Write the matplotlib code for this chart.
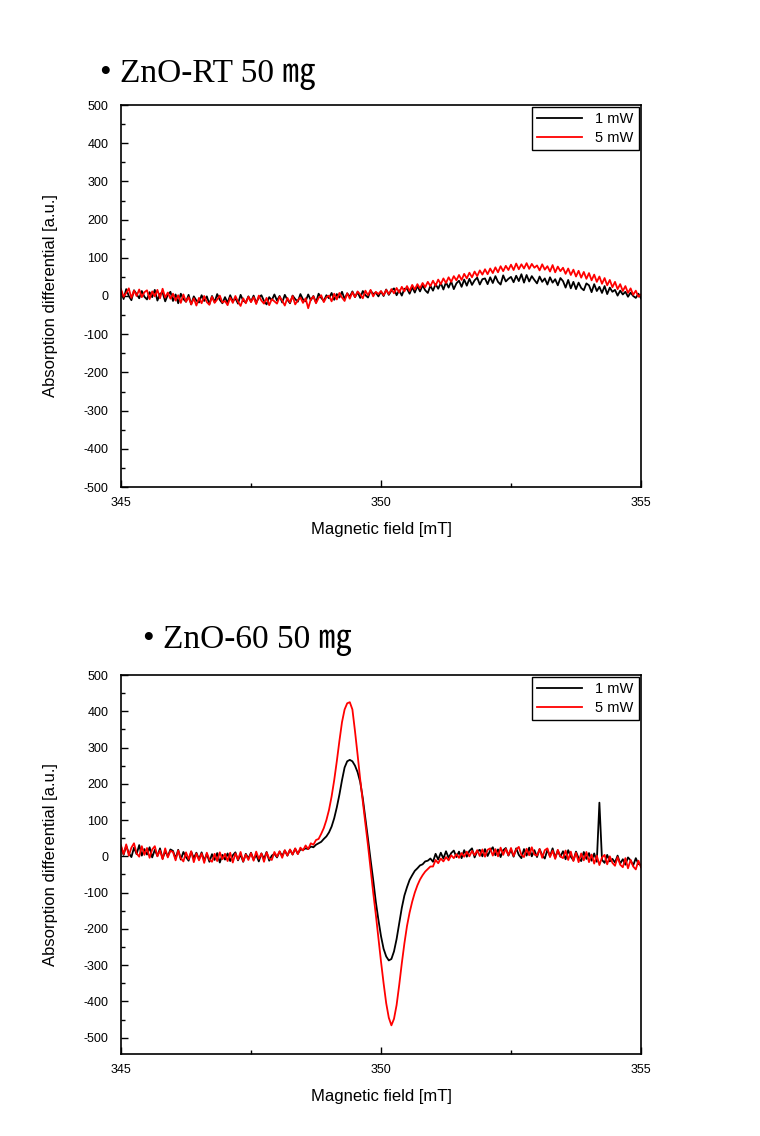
import matplotlib.pyplot as plt
import numpy as np
from matplotlib.ticker import MultipleLocator

# field sweep 345 -> 355 mT, one reading every 0.05 mT
field = np.arange(201) * 0.05 + 345

# ZnO-RT 50 mg
rt_1mw = [
    14, -8, 18, 0, -11, 15, 5, -6, 13, -2,
    -9, 10, -3, 16, -12, 6, 9, -14, 3, 11,
    -13, 4, -19, 6, -8, -15, 3, -22, -1, -12,
    -17, 2, -13, -1, -21, 0, -16, 5, -10, -19,
    -3, -18, 2, -14, -6, -20, 3, -12, -17, -1,
    -15, 1, -18, -4, 2, -13, -22, -3, -11, 4,
    -12, 0, -17, 3, -10, -19, 1, -8, -15, 5,
    -9, -14, 4, -11, 0, -17, 6, -5, -13, 2,
    -6, 8, -10, 5, -4, 11, -8, 7, -2, 12,
    -3, 10, -5, 13, 2, -4, 14, 5, 9, -1,
    12, 0, 17, 3, 14, 20, 2, 15, 1, 19,
    19, 6, 23, 9, 26, 12, 28, 15, 8, 27,
    14, 31, 19, 34, 17, 36, 22, 38, 18, 33,
    40, 24, 43, 27, 45, 29, 41, 48, 30, 44,
    46, 31, 49, 34, 52, 37, 30, 54, 38, 45,
    50, 36, 53, 39, 57, 35, 55, 38, 52, 42,
    33, 51, 37, 46, 30, 49, 35, 44, 28, 47,
    39, 22, 42, 20, 37, 18, 35, 21, 15, 33,
    28, 10, 31, 13, 24, 8, 26, 5, 22, 11,
    16, 1, 14, 4, 11, -2, 9, 0, -5, 6,
    -6]
rt_5mw = [
    18, -2, 8, 20, -5, 14, 0, 17, -3, 10,
    15, -8, 12, -1, 16, -6, 19, -4, 9, -7,
    6, -12, 2, -18, 4, -15, -3, -22, -6, -25,
    -5, -19, 0, -16, -23, -2, -18, -9, 1, -17,
    -13, -24, -4, -18, 0, -15, -26, -6, -19, -2,
    -16, -3, -21, 1, -12, -20, -5, -24, -8, -14,
    -20, -2, -12, -25, -5, -17, 0, -22, -11, -4,
    -18, -6, -32, -9, -1, -19, -5, 2, -16, -3,
    1, -14, 6, -9, 8, -4, -13, 7, -7, 10,
    -3, 12, 4, -6, 14, 2, 16, -1, 11, 5,
    13, 2, 16, 5, 18, 7, 21, 9, 24, 12,
    26, 13, 29, 17, 31, 20, 34, 23, 37, 26,
    40, 27, 43, 31, 46, 34, 49, 37, 52, 41,
    55, 42, 58, 46, 61, 49, 64, 52, 67, 56,
    70, 57, 72, 60, 75, 62, 78, 65, 79, 68,
    82, 68, 85, 70, 83, 72, 86, 71, 84, 74,
    80, 67, 83, 69, 78, 64, 81, 62, 77, 65,
    74, 58, 72, 55, 69, 51, 66, 48, 63, 45,
    60, 41, 56, 37, 51, 32, 47, 28, 42, 23,
    37, 18, 31, 13, 26, 8, 20, 3, 14, -2,
    4]

# ZnO-60 50 mg
z60_1mw = [
    26, 4, 29, 9, -2, 24, 6, 31, 2, 20,
    5, 25, -3, 18, 1, 22, -6, 14, 0, 19,
    15, -6, 18, -9, 12, -2, -12, 13, -5, 10,
    -8, 11, -12, 7, -15, 6, -10, 9, -17, 4,
    -9, 8, -13, 3, 11, -11, 5, -15, 7, -6,
    10, -9, 4, -14, 8, -7, 12, -12, 2, 7,
    -3, 13, 1, 16, 2, 18, 5, 21, 7, 19,
    18, 22, 20, 27, 25, 32, 36, 40, 48, 55,
    66, 82, 105, 135, 170, 210, 245, 262, 266, 262,
    250, 232, 205, 160, 105, 48, -10, -65, -125, -175,
    -220, -255, -276, -287, -283, -262, -228, -185, -142, -108,
    -85, -65, -52, -40, -33, -25, -22, -14, -12, -6,
    -15, 7, -9, 10, -6, 14, -4, 9, 16, -2,
    13, -5, 17, -1, 15, 22, -3, 14, 18, 0,
    20, 1, 16, 25, 3, 19, -2, 17, 23, 2,
    18, -1, 22, 4, -5, 20, 2, 24, 0, 17,
    -2, 20, 3, -6, 18, 0, 22, -4, 16, -1,
    14, -8, 17, -1, -11, 13, -5, -13, 12, -7,
    9, -12, 8, -15, 148, -10, -18, 4, -14, -7,
    -17, 2, -20, -8, -23, -3, -11, -25, -5, -21,
    -24]
z60_5mw = [
    30, 6, 33, 2, 24, 36, 8, -1, 28, 4,
    23, -4, 19, 28, 0, 16, -8, 22, -3, 15,
    12, -11, 16, -5, -14, 11, -8, 14, -16, 8,
    -11, 8, -18, 10, -9, -15, 7, -13, 11, -8,
    7, -13, 10, -17, 8, -9, 12, -14, 5, -10,
    9, -12, 13, -7, 8, -15, 11, -6, -10, 12,
    -1, 14, -4, 17, 2, 19, 5, 22, 6, 24,
    16, 30, 20, 36, 32, 45, 48, 62, 78, 100,
    128, 165, 210, 262, 318, 370, 405, 422, 425, 405,
    345, 280, 212, 150, 90, 30, -35, -100, -160, -225,
    -290, -350, -405, -445, -466, -448, -410, -355, -295, -240,
    -192, -155, -125, -100, -80, -64, -52, -42, -35, -28,
    -28, -10, -19, -6, -14, -2, -11, 3, -5, 6,
    -4, 9, -1, 13, 0, 15, 3, 17, 1, 19,
    -1, 18, 22, 2, 20, 0, 24, 4, 21, 3,
    23, 1, 19, 26, 4, -2, 21, 3, 25, 5,
    2, 20, -4, 17, 22, -2, 16, -7, 18, 0,
    -5, 16, -10, 13, -13, 10, -16, 8, -11, 12,
    -16, 5, -20, 2, -24, -3, 4, -22, 0, -18,
    -26, -2, -23, -30, -5, -33, -10, -28, -36, -12,
    -30]

titles = ['\u2022 ZnO-RT 50 \u338e', '\u2022 ZnO-60 50 \u338e']
labels = ['1 mW', '5 mW']

plt.rcParams['font.family'] = ['Liberation Sans', 'DejaVu Sans']
plt.rcParams['axes.unicode_minus'] = False

fig = plt.figure(figsize=(7.6, 11.36), dpi=100)
W, H = 760, 1136

ax1 = fig.add_axes([121/W, 1-487/H, 520/W, 382/H])
ax2 = fig.add_axes([121/W, 1-1054/H, 520/W, 379/H])


def draw(ax, y1, y5, ylo):
    ax.plot(field, y1, color='black', lw=1.3, label=labels[0])
    ax.plot(field, y5, color='#ff0000', lw=1.3, label=labels[1])
    ax.set_xlim(345, 355)
    ax.set_ylim(ylo, 500)
    ax.xaxis.set_major_locator(MultipleLocator(5))
    ax.xaxis.set_minor_locator(MultipleLocator(2.5))
    ax.yaxis.set_major_locator(MultipleLocator(100))
    ax.yaxis.set_minor_locator(MultipleLocator(50))
    ax.tick_params(which='both', direction='in', labelsize=9, color='black')
    ax.tick_params(which='major', length=5, width=1)
    ax.tick_params(which='minor', length=3, width=1)
    ax.tick_params(axis='y', pad=9)
    ax.tick_params(axis='x', pad=7)
    for s in ax.spines.values():
        s.set_linewidth(1.2)
    ax.set_xlabel('Magnetic field [mT]', fontsize=12)
    ax.set_ylabel('Absorption differential [a.u.]', fontsize=12)
    h = ax.get_position().height * H
    ax.xaxis.set_label_coords(0.5, -35/h)
    ax.yaxis.set_label_coords(-63/520, 0.5)
    leg = ax.legend(loc='upper right', fontsize=10.5, frameon=True, fancybox=False,
                    edgecolor='black', framealpha=1, borderaxespad=0.15,
                    handlelength=3.1, handletextpad=0.9, borderpad=0.35,
                    labelspacing=0.3)
    leg.get_frame().set_linewidth(1.0)


draw(ax1, rt_1mw, rt_5mw, -500)
draw(ax2, z60_1mw, z60_5mw, -545)

tfont = ['Liberation Serif', 'Noto Sans CJK KR', 'DejaVu Sans']
fig.text(100/W, 1-82/H, titles[0], fontsize=24, family=tfont, va='baseline')
fig.text(143/W, 1-648/H, titles[1], fontsize=24, family=tfont, va='baseline')

fig.savefig('out.png', dpi=100)
